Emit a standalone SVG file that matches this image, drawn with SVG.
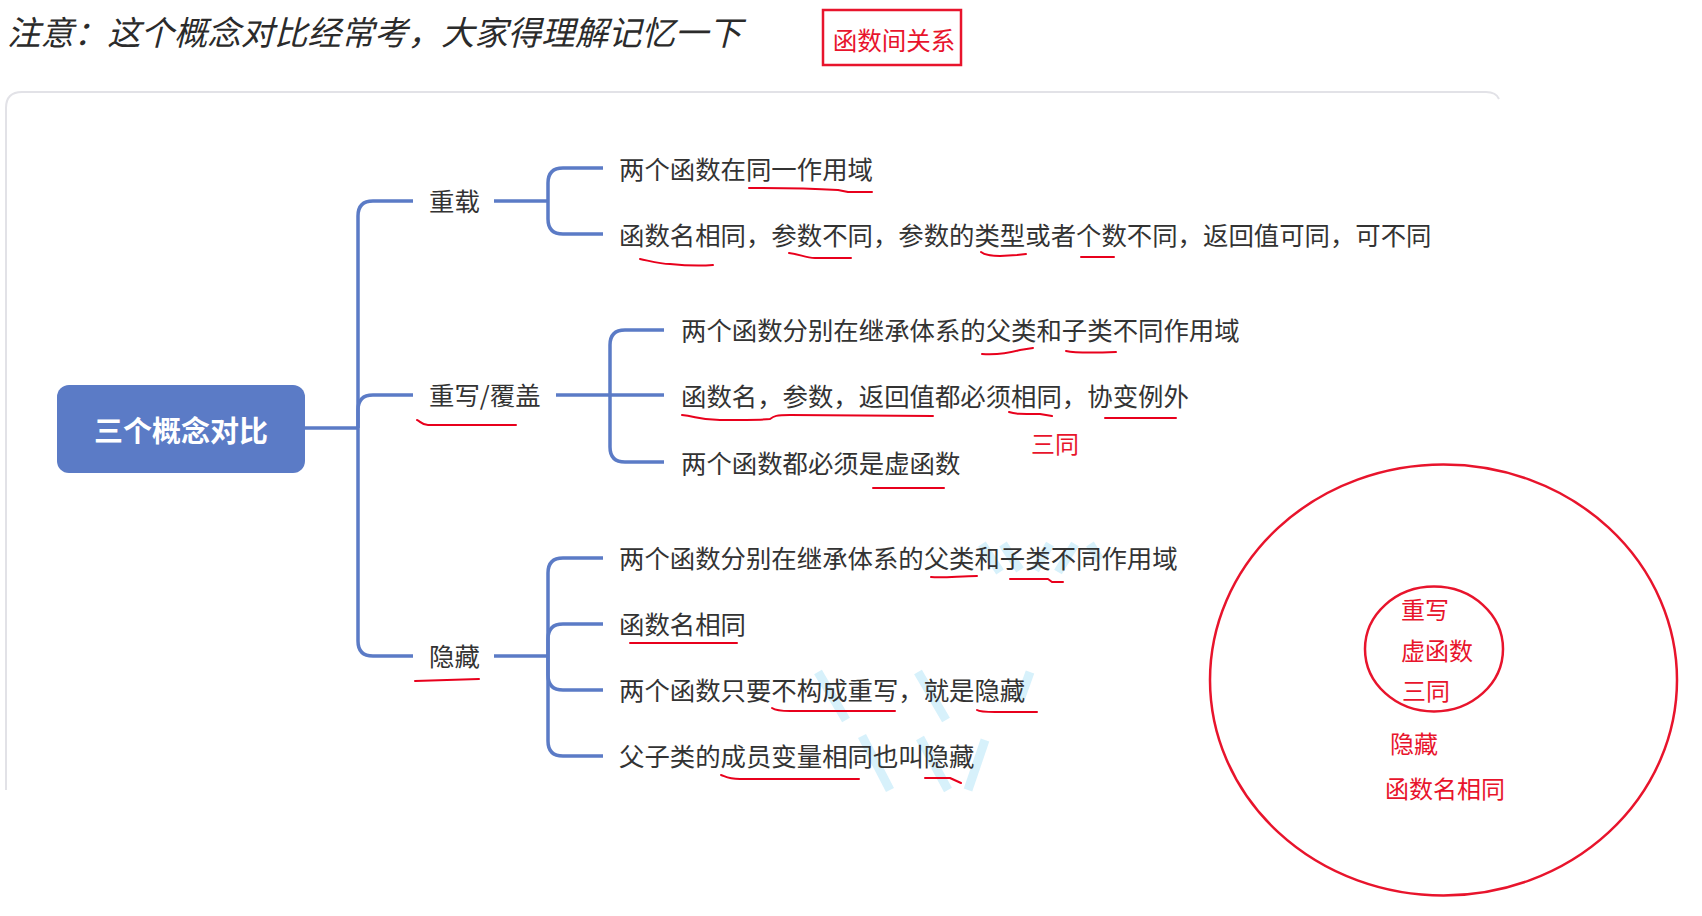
<svg xmlns="http://www.w3.org/2000/svg" width="1702" height="916" viewBox="0 0 1702 916">
<style>
.t{font-family:"Noto Sans CJK SC","Noto Sans",sans-serif;fill:#333;font-size:25.4px;dominant-baseline:central}
.r{font-family:"Noto Sans CJK SC","Noto Sans",sans-serif;fill:#e8142c;font-size:24px;dominant-baseline:central}
.c{fill:none;stroke:#5b7bc6;stroke-width:3.5;stroke-linecap:butt}
.u{fill:none;stroke:#e8001c;stroke-width:2;stroke-linecap:round;stroke-linejoin:round}
.w{fill:none;stroke:#c6ebfa;stroke-width:9;opacity:0.7}
</style>
<rect width="1702" height="916" fill="#fff"/>
<g id="watermark">
<path class="w" d="M982,544 L1000,572 M1003,544 L1020,570 M1050,544 L1035,570 M1075,544 L1058,572 M1090,544 L1100,560"/>
<path class="w" d="M818,672 L846,720 M918,672 L946,720 M1030,672 L1020,700"/>
<path class="w" d="M862,736 L890,790 M920,738 L948,790 M985,740 L968,790"/>
</g>
<path id="container" d="M6,790 V108 Q6,92 22,92 H1486 Q1496,92 1499,99" fill="none" stroke="#e2e2e7" stroke-width="2"/>
<g id="title">
<text x="7" y="30" class="t" style="font-size:33.4px;font-style:italic;fill:#2b2b2b">注意：这个概念对比经常考，大家得理解记忆一下</text>
</g>
<g id="relbox">
<rect x="823" y="10" width="138" height="55" fill="none" stroke="#e8142c" stroke-width="2.5"/>
<text x="894" y="39" class="r" text-anchor="middle" style="font-size:24.5px">函数间关系</text>
</g>
<g id="connectors">
<path class="c" d="M305,428 H358"/>
<path class="c" d="M358,428 V216 Q358,201 373,201 H413"/>
<path class="c" d="M358,428 V410 Q358,395 373,395 H413"/>
<path class="c" d="M358,428 V641 Q358,656 373,656 H413"/>
<path class="c" d="M494,201 H548"/>
<path class="c" d="M548,201 V183 Q548,168 563,168 H603"/>
<path class="c" d="M548,201 V219 Q548,234 563,234 H603"/>
<path class="c" d="M556,395 H664"/>
<path class="c" d="M610,395 V345 Q610,330 625,330 H664"/>
<path class="c" d="M610,395 V447 Q610,462 625,462 H664"/>
<path class="c" d="M494,656 H548"/>
<path class="c" d="M548,656 V573 Q548,558 563,558 H603"/>
<path class="c" d="M548,656 V639 Q548,624 563,624 H603"/>
<path class="c" d="M548,656 V675 Q548,690 563,690 H603"/>
<path class="c" d="M548,656 V741 Q548,756 563,756 H603"/>
</g>
<g id="root">
<rect x="57" y="385" width="248" height="88" rx="12" fill="#5b7bc6"/>
<text x="181" y="429" class="t" text-anchor="middle" style="fill:#fff;font-size:29px;font-weight:bold">三个概念对比</text>
</g>
<g id="overload">
<text x="429" y="200" class="t">重载</text>
</g>
<g id="overload-1"><text x="619" y="168" class="t">两个函数在同一作用域</text></g>
<g id="overload-2"><text x="619" y="234" class="t">函数名相同，参数不同，参数的类型或者个数不同，返回值可同，可不同</text></g>
<g id="override">
<text x="429" y="394" class="t">重写/覆盖</text>
</g>
<g id="override-1"><text x="681" y="329" class="t">两个函数分别在继承体系的父类和子类不同作用域</text></g>
<g id="override-2"><text x="681" y="395" class="t">函数名，参数，返回值都必须相同，协变例外</text></g>
<g id="override-3"><text x="681" y="462" class="t">两个函数都必须是虚函数</text></g>
<g id="hide">
<text x="429" y="655" class="t">隐藏</text>
</g>
<g id="hide-1"><text x="619" y="557" class="t">两个函数分别在继承体系的父类和子类不同作用域</text></g>
<g id="hide-2"><text x="619" y="623" class="t">函数名相同</text></g>
<g id="hide-3"><text x="619" y="689" class="t">两个函数只要不构成重写，就是隐藏</text></g>
<g id="hide-4"><text x="619" y="755" class="t">父子类的成员变量相同也叫隐藏</text></g>
<g id="underlines">
<path class="u" d="M749,188 C780,188 820,189 838,190 L848,192 L872,192"/>
<path class="u" d="M640,259 C650,261 660,264 670,264 C690,266 700,266 713,265"/>
<path class="u" d="M789,253 C800,254 805,258 815,258 L851,258"/>
<path class="u" d="M981,252 C985,255 990,256 1000,256 L1017,255 L1026,254"/>
<path class="u" d="M1081,257 L1114,257"/>
<path class="u" d="M982,354 C1000,355 1010,353 1020,350 L1033,348"/>
<path class="u" d="M1066,351 C1075,353 1090,353 1116,352"/>
<path class="u" d="M682,415 C695,416 700,420 720,420 C740,420 760,420 770,419 C774,416 776,415 790,415 L933,416"/>
<path class="u" d="M1009,412 C1015,414 1020,414 1040,414 L1052,416"/>
<path class="u" d="M1105,418 L1176,418"/>
<path class="u" d="M873,488 L944,488"/>
<path class="u" d="M417,420 C420,421 422,425 428,425 L516,425"/>
<path class="u" d="M931,577 C945,578 960,576 977,576"/>
<path class="u" d="M1010,579 L1048,579 L1052,582 L1063,582"/>
<path class="u" d="M630,643 L737,643"/>
<path class="u" d="M772,708 C775,710 778,711 790,711 L895,711"/>
<path class="u" d="M977,710 C980,712 985,712 995,712 L1037,712"/>
<path class="u" d="M721,775 C725,776 727,779 740,779 L859,779"/>
<path class="u" d="M925,778 L950,778 L961,783"/>
<path class="u" d="M415,681 L479,679"/>
</g>
<g id="note-santong">
<text x="1031" y="442" class="r">三同</text>
</g>
<g id="venn">
<ellipse cx="1443.5" cy="680" rx="233.5" ry="215.5" fill="none" stroke="#e8142c" stroke-width="2.5"/>
<ellipse cx="1434" cy="649" rx="69" ry="62.5" fill="none" stroke="#e8142c" stroke-width="2.5"/>
<text x="1401" y="608" class="r">重写</text>
<text x="1401" y="649" class="r">虚函数</text>
<text x="1402" y="689" class="r">三同</text>
<text x="1390" y="742" class="r">隐藏</text>
<text x="1385" y="787" class="r">函数名相同</text>
</g>
</svg>
